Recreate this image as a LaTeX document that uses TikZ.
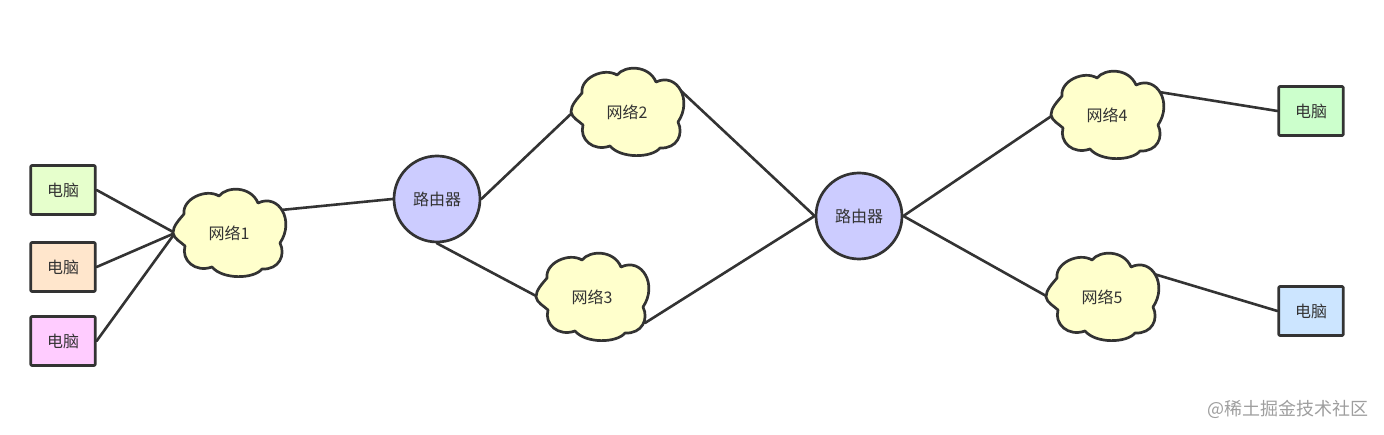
\documentclass[tikz,border=0pt]{standalone}
\usepackage{fontspec}
\setmainfont{Noto Sans CJK SC}
\usetikzlibrary{backgrounds}
\definecolor{ink}{HTML}{333333}
\definecolor{routerfill}{HTML}{CCCCFF}
\definecolor{cloudfill}{HTML}{FFFFCC}
\tikzset{
  x=1pt,y=-1pt,
  wire/.style={draw=ink,line width=2.6pt,line cap=round},
  outline/.style={draw=ink,line width=2.7pt,line join=round},
  pcbox/.style={outline,rounded corners=1pt,minimum width=64.5pt,minimum height=49pt,inner sep=0pt,text=ink,font=\fontsize{16}{18}\selectfont},
  router/.style={outline,circle,fill=routerfill,minimum size=86pt,inner sep=0pt,text=ink,font=\fontsize{16}{18}\selectfont},
  cloudtext/.style={inner sep=0pt,text=ink,font=\fontsize{16}{18}\selectfont},
  cloudshape/.style={outline,fill=cloudfill},
}
\newcommand{\pclabel}{\raisebox{-2.5pt}{电脑}}
\newcommand{\netcloud}[4]{%
  \begin{scope}[shift={(#2,#3)}]
    \draw[cloudshape] (-56,0)
      .. controls (-56,-7) and (-50,-13) .. (-45,-19)
      .. controls (-47,-34) and (-23,-45) .. (-10,-37)
      .. controls (-2,-47) and (22,-47) .. (29,-30)
      .. controls (50,-40) and (66,-12) .. (51,10)
      .. controls (57,22) and (50,37) .. (33,36)
      .. controls (25,46) and (-6,47) .. (-17,34)
      .. controls (-34,40) and (-48,27) .. (-44,13)
      .. controls (-48,9) and (-55,6) .. (-56,0) -- cycle;
    \node[cloudtext] (#1) at (0,0) {#4};
    \coordinate (#1w) at (-54,0);
    \coordinate (#1ne) at (52,-23);
    \coordinate (#1se) at (53,26);
  \end{scope}}
\begin{document}
\begin{tikzpicture}
\useasboundingbox (0,0) rectangle (1384,435);
\node[pcbox,fill={rgb,255:red,230;green,255;blue,204}] (pa) at (63,190) {\pclabel};
\node[pcbox,fill={rgb,255:red,255;green,230;blue,204}] (pb) at (63,267) {\pclabel};
\node[pcbox,fill={rgb,255:red,255;green,204;blue,255}] (pc) at (63,341) {\pclabel};
\node[pcbox,fill={rgb,255:red,204;green,255;blue,204}] (pd) at (1311,111) {\pclabel};
\node[pcbox,fill={rgb,255:red,204;green,229;blue,255}] (pe) at (1311,311) {\pclabel};
\node[router] (ra) at (437,199) {\raisebox{-0.8pt}{路由器}};
\node[router] (rb) at (859,216) {\raisebox{-0.8pt}{路由器}};
\netcloud{na}{229}{233}{网络1}
\netcloud{nb}{627}{112}{网络2}
\netcloud{nc}{592}{297}{网络3}
\netcloud{nd}{1107}{115}{网络4}
\netcloud{ne}{1102}{297}{网络5}
\begin{pgfonlayer}{background}
\draw[wire] (pa.east) -- (naw);
\draw[wire] (pb.east) -- (naw);
\draw[wire] (pc.east) -- (naw);
\draw[wire] (nane) -- (ra.west);
\draw[wire] (ra.east) -- (nbw);
\draw[wire] (ra.south) -- (ncw);
\draw[wire] (nbne) -- (rb.west);
\draw[wire] (ncse) -- (rb.west);
\draw[wire] (rb.east) -- (ndw);
\draw[wire] (rb.east) -- (new);
\draw[wire] (ndne) -- (pd.west);
\draw[wire] (nene) -- (pe.west);
\end{pgfonlayer}
\node[inner sep=0pt,anchor=east,text=black!38,font=\fontsize{18}{20}\selectfont] (mark) at (1369,409) {@稀土掘金技术社区};
\end{tikzpicture}
\end{document}
